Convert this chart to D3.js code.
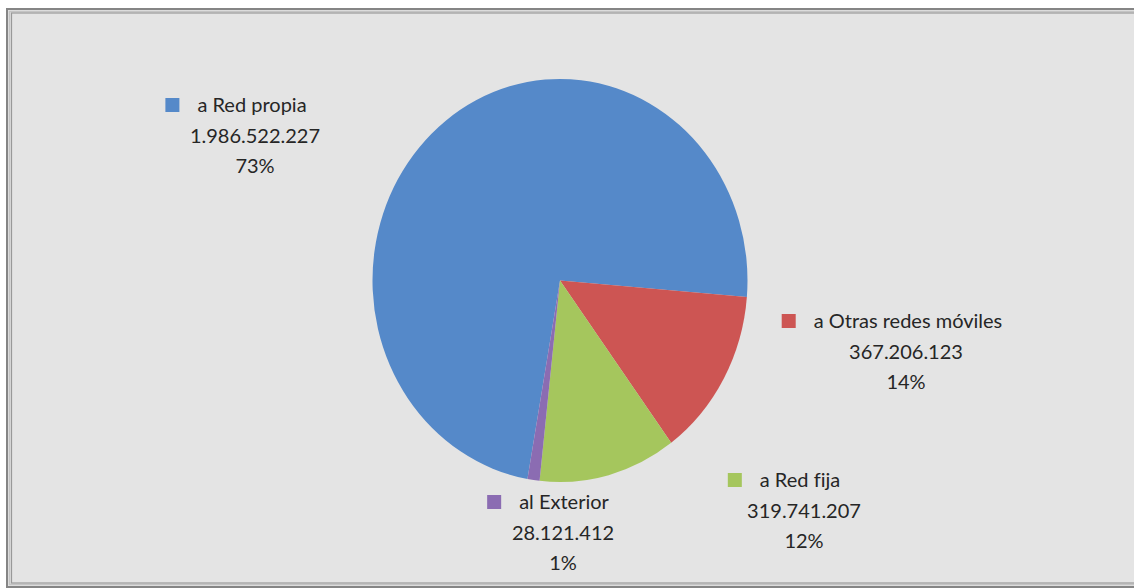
<!DOCTYPE html>
<html>
<head>
<meta charset="utf-8">
<title>Llamadas por destino</title>
<script src="https://d3js.org/d3.v7.min.js"></script>
<style>
  body { margin: 0; background: #fff; }
  svg { display: block; }
  .lbl text { font-family: Lato, "Open Sans", sans-serif; font-size: 20px; fill: #262626; font-variant-ligatures: none; }
</style>
</head>
<body>
<svg id="chart" width="1134" height="588"></svg>
<script>
// data
const categories = ["a Red propia", "a Otras redes móviles", "a Red fija", "al Exterior"];
const values = [1986522227, 367206123, 319741207, 28121412];
const percents = ["73%", "14%", "12%", "1%"];
const colors = ["#5589c9", "#cd5553", "#a5c65d", "#8b6cb2"];

// label layout (centre of value lines, y of first line, shift of first line)
const labelPos = [
  { cx: 255, y: 105, dx: -19 },
  { cx: 906, y: 321, dx: -14 },
  { cx: 804, y: 480, dx: -20 },
  { cx: 563, y: 502, dx: -15 }
];

const width = 1134, height = 588;
const cx = 560, cy = 280.5, r = 187.5, yStretch = 1.075;
const firstAngle = 190 * Math.PI / 180;

const svg = d3.select("#chart");

// frame
svg.append("rect").attr("x", 7).attr("y", 9).attr("width", width + 20).attr("height", 578)
  .attr("fill", "#e4e4e4").attr("stroke", "#858585").attr("stroke-width", 2);
svg.append("rect").attr("x", 9.5).attr("y", 11.5).attr("width", width + 20).attr("height", 573)
  .attr("fill", "none").attr("stroke", "#c4c4c4").attr("stroke-width", 1.5);
svg.append("rect").attr("x", 11.5).attr("y", 13).attr("width", width + 20).attr("height", 570)
  .attr("fill", "#e4e4e4").attr("stroke", "#999").attr("stroke-width", 1.2);

const fmt = d3.formatLocale({ decimal: ",", thousands: ".", grouping: [3] }).format(",d");

const pie = d3.pie().sort(null).value(d => d)
  .startAngle(firstAngle).endAngle(firstAngle + 2 * Math.PI);
const arc = d3.arc().innerRadius(0).outerRadius(r);

const g = svg.append("g").attr("transform", `translate(${cx},${cy}) scale(1,${yStretch})`);
g.selectAll("path").data(pie(values)).join("path")
  .attr("d", arc)
  .attr("fill", (d, i) => colors[i]);

// labels
const lineH = 30.5;
categories.forEach((name, i) => {
  const p = labelPos[i];
  const lg = svg.append("g").attr("class", "lbl");
  const t1 = lg.append("text").attr("x", 0).attr("y", p.y).attr("dy", "0.35em").text(name);
  const tw = t1.node().getComputedTextLength();
  const box = 14, gap = 18;
  const left = p.cx + p.dx - (box + gap + tw) / 2;
  lg.append("rect").attr("x", left).attr("y", p.y - 7).attr("width", box).attr("height", box)
    .attr("fill", colors[i]);
  t1.attr("x", left + box + gap);
  lg.append("text").attr("x", p.cx).attr("y", p.y + lineH).attr("dy", "0.35em")
    .attr("text-anchor", "middle").text(fmt(values[i]));
  lg.append("text").attr("x", p.cx).attr("y", p.y + 2 * lineH).attr("dy", "0.35em")
    .attr("text-anchor", "middle").text(percents[i]);
});
</script>
</body>
</html>
